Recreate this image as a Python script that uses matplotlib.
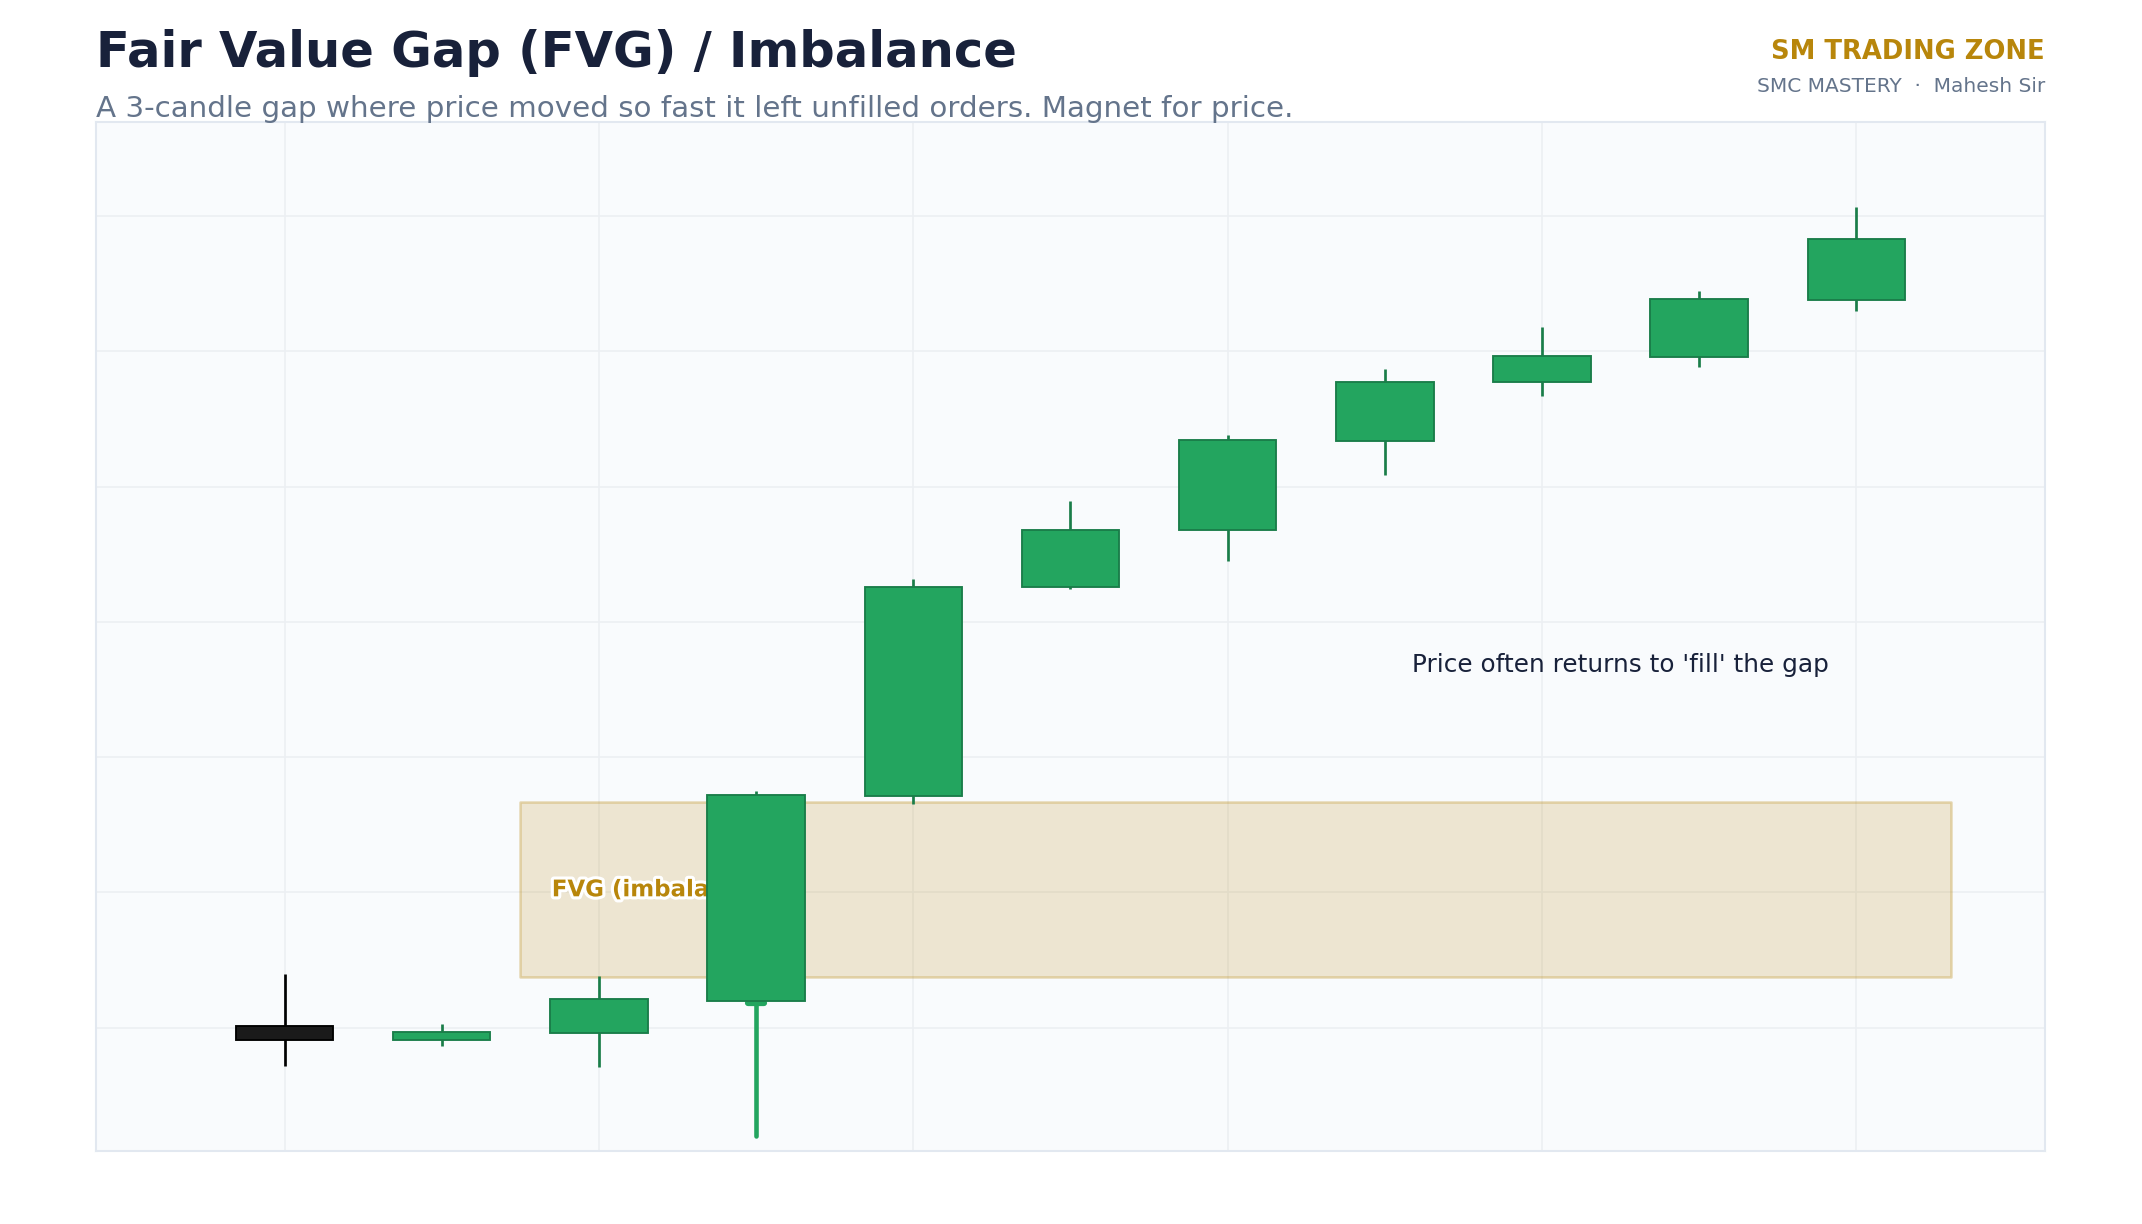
import numpy as np
import matplotlib
matplotlib.use("Agg")
import matplotlib.pyplot as plt
import matplotlib.patheffects as pe
from matplotlib.colors import to_rgba

# candle data (index 0..10)
opens = [100.05, 99.53, 99.79, 101.00, 108.57, 116.28, 118.38, 121.67, 123.85, 124.78, 126.88]
closes = [99.53, 99.83, 101.05, 108.59, 116.30, 118.41, 121.71, 123.88, 124.81, 126.92, 129.16]
highs = [102.00, 100.15, 101.92, 108.76, 116.58, 119.48, 121.91, 124.35, 125.91, 127.24, 130.34]
lows = [98.58, 99.33, 98.56, 96.00, 108.28, 116.20, 117.24, 120.43, 123.36, 124.41, 126.49]

fvg_low = 101.86   # candle 2 high
fvg_high = 108.33  # candle 4 low
fvg_x0, fvg_x1 = 1.5, 10.6

GREEN = "#23a55f"
GREEN_EDGE = "#1a7d49"
BLACK = "#1a1a1a"
GOLD = "#b8860b"
NAVY = "#18213a"
SLATE = "#64748b"

fig = plt.figure(figsize=(14.28, 8.16), dpi=150)
ax = fig.add_axes([0.0448, 0.0596, 0.9099, 0.8407])
ax.set_facecolor("#f9fbfd")

x = np.arange(len(opens))
o = np.array(opens)
c = np.array(closes)
bull = c >= o
face = [GREEN if b else BLACK for b in bull]
edge = [GREEN_EDGE if b else "#000000" for b in bull]

# FVG zone
ax.fill_between([fvg_x0, fvg_x1], fvg_low, fvg_high,
                facecolor=to_rgba(GOLD, 0.18), edgecolor=to_rgba(GOLD, 0.3),
                linewidth=1.2, zorder=1)
ax.text(fvg_x0 + 0.2, (fvg_low + fvg_high) / 2, "FVG (imbalance)",
        color=GOLD, fontsize=11, fontweight="bold", ha="left", va="center",
        zorder=2, path_effects=[pe.withStroke(linewidth=3, foreground="white")])

# wicks
ax.vlines(x, lows, highs, colors=edge, linewidth=1.3, zorder=3)
# long lower tail of the displacement candle
body3 = min(o[3], c[3])
ax.vlines(x[3], lows[3], body3, colors=GREEN, linewidth=2.2,
          zorder=3.5, capstyle="round")
ax.plot([x[3] - 0.05, x[3] + 0.05], [body3 - 0.08, body3 - 0.08], color=GREEN,
        linewidth=3, solid_capstyle="round", zorder=3.5)
# bodies
ax.bar(x, np.abs(c - o), bottom=np.minimum(o, c), width=0.62,
       color=face, edgecolor=edge, linewidth=0.9, zorder=4)

ax.text(8.5, 113.4, "Price often returns to 'fill' the gap", color=NAVY,
        fontsize=11.9, ha="center", va="center", zorder=5)

ax.set_xlim(-1.2, 11.2)
ax.set_ylim(95.44, 133.47)
ax.set_xticks(np.arange(0, 11, 2))
ax.set_yticks(np.arange(100, 131, 5))
ax.tick_params(length=0, labelbottom=False, labelleft=False)
ax.grid(True, color="#eceff3", linewidth=0.8, zorder=0)
ax.set_axisbelow(True)
for s in ax.spines.values():
    s.set_color("#e2e8f0")
    s.set_linewidth(1.0)

fig.text(0.0448, 0.9455, "Fair Value Gap (FVG) / Imbalance", color=NAVY,
         fontsize=23.8, fontweight="bold", ha="left", va="baseline")
fig.text(0.0448, 0.9045,
         "A 3-candle gap where price moved so fast it left unfilled orders. Magnet for price.",
         color=SLATE, fontsize=14.12, ha="left", va="baseline")
fig.text(0.9547, 0.9518, "SM TRADING ZONE", color=GOLD, fontsize=12.4,
         fontweight="bold", ha="right", va="baseline")
fig.text(0.9547, 0.9248, "SMC MASTERY  \u00b7  Mahesh Sir", color=SLATE,
         fontsize=9.7, ha="right", va="baseline")

fig.savefig("out.png", dpi=150, facecolor="white")
